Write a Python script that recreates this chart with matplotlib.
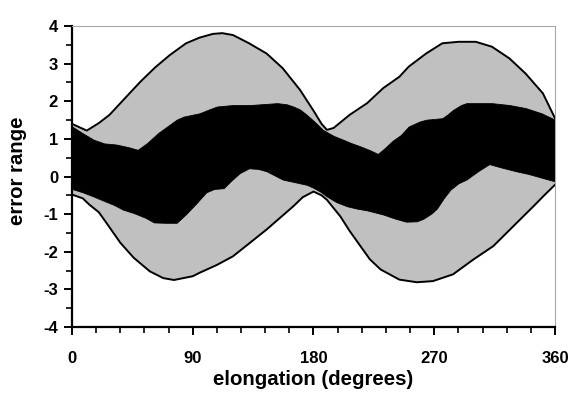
import numpy as np
import matplotlib
matplotlib.use("Agg")
import matplotlib.pyplot as plt
from matplotlib.ticker import MultipleLocator

plt.rcParams['font.family'] = ['Liberation Sans', 'DejaVu Sans']
plt.rcParams['axes.unicode_minus'] = False

# outer envelope (grey band), upper and lower edges
outer_up_x = [0, 11, 20, 28, 40, 51, 62, 73, 85, 95, 105, 112, 120, 132, 145, 157, 170, 180,
              186, 190, 195, 207, 220, 232, 244, 251, 264, 276, 288, 301, 313, 326, 338, 351, 360]
outer_up_y = [1.40, 1.22, 1.42, 1.64, 2.10, 2.52, 2.90, 3.23, 3.54, 3.69, 3.79, 3.81, 3.76, 3.54,
              3.27, 2.88, 2.30, 1.75, 1.40, 1.24, 1.29, 1.64, 1.95, 2.35, 2.65, 2.92, 3.27, 3.54,
              3.58, 3.58, 3.45, 3.14, 2.74, 2.21, 1.55]

outer_lo_x = [0, 8, 13, 20, 26, 36, 46, 58, 68, 76, 90, 95, 108, 120, 132, 145, 155, 165, 172,
              180, 186, 190, 200, 207, 215, 222, 230, 244, 257, 269, 284, 299, 314, 329, 344, 352, 360]
outer_lo_y = [-0.48, -0.58, -0.75, -0.95, -1.25, -1.76, -2.16, -2.52, -2.70, -2.75, -2.65, -2.56,
              -2.35, -2.12, -1.78, -1.41, -1.10, -0.79, -0.55, -0.40, -0.50, -0.62, -1.06, -1.45,
              -1.85, -2.20, -2.47, -2.74, -2.81, -2.78, -2.60, -2.21, -1.85, -1.32, -0.79, -0.50, -0.22]

# inner band (black), upper and lower edges
inner_up_x = [0, 8, 16, 24, 33, 42, 49, 56, 64, 71, 78, 83, 95, 102, 108, 120, 133, 145, 153, 160,
              165, 170, 175, 181, 187, 195, 202, 208, 215, 222, 228, 233, 239, 245, 251, 259, 264,
              276, 280, 284, 290, 294, 313, 326, 338, 350, 360]
inner_up_y = [1.33, 1.15, 0.98, 0.88, 0.85, 0.78, 0.71, 0.89, 1.15, 1.33, 1.51, 1.59, 1.68, 1.78,
              1.86, 1.90, 1.90, 1.93, 1.95, 1.92, 1.86, 1.78, 1.64, 1.45, 1.24, 1.08, 0.98, 0.89,
              0.80, 0.70, 0.60, 0.75, 0.95, 1.10, 1.33, 1.46, 1.51, 1.55, 1.65, 1.77, 1.90, 1.95,
              1.95, 1.90, 1.82, 1.68, 1.51]

inner_lo_x = [0, 8, 16, 24, 31, 38, 46, 55, 61, 70, 78, 85, 93, 100, 106, 113, 119, 125, 132, 139,
              145, 151, 157, 166, 175, 180, 185, 190, 197, 205, 212, 220, 232, 241, 249, 257, 262,
              268, 272, 277, 282, 288, 294, 303, 311, 320, 331, 340, 350, 360]
inner_lo_y = [-0.33, -0.42, -0.53, -0.65, -0.75, -0.88, -0.97, -1.10, -1.22, -1.23, -1.23, -1.00,
              -0.70, -0.42, -0.33, -0.31, -0.10, 0.09, 0.22, 0.20, 0.14, 0.03, -0.08, -0.15, -0.22,
              -0.30, -0.40, -0.53, -0.68, -0.79, -0.85, -0.90, -1.01, -1.12, -1.20, -1.19, -1.12,
              -0.98, -0.85, -0.58, -0.35, -0.18, -0.08, 0.15, 0.33, 0.24, 0.14, 0.07, -0.03, -0.13]

fig = plt.figure(figsize=(5.76, 3.94), dpi=100)
ax = fig.add_axes([0.125, 0.170, 0.8385, 0.764])

# grey band: fill between the two outer edges on a common x grid
xs = np.array(sorted(set(outer_up_x) | set(outer_lo_x)), dtype=float)
ax.fill_between(xs, np.interp(xs, outer_lo_x, outer_lo_y), np.interp(xs, outer_up_x, outer_up_y),
                color='#c0c0c0', lw=0, zorder=1)

xi = np.array(sorted(set(inner_up_x) | set(inner_lo_x)), dtype=float)
ax.fill_between(xi, np.interp(xi, inner_lo_x, inner_lo_y), np.interp(xi, inner_up_x, inner_up_y),
                color='black', lw=0.6, edgecolor='black', zorder=2)

ax.plot(outer_up_x, outer_up_y, color='black', lw=1.4, zorder=3)
ax.plot(outer_lo_x, outer_lo_y, color='black', lw=1.4, zorder=3)

ax.set_xlim(0, 360)
ax.set_ylim(-4, 4)
ax.xaxis.set_major_locator(MultipleLocator(90))
ax.xaxis.set_minor_locator(MultipleLocator(18))
ax.yaxis.set_major_locator(MultipleLocator(1))
ax.yaxis.set_minor_locator(MultipleLocator(0.5))

for s in ['top', 'right']:
    ax.spines[s].set_color('#a8a8a8')
    ax.spines[s].set_linewidth(0.8)
for s in ['left', 'bottom']:
    ax.spines[s].set_color('black')
    ax.spines[s].set_linewidth(1.6)

ax.tick_params(which='major', direction='out', length=6, width=1.4, labelsize=12)
ax.tick_params(axis='x', which='major', pad=11)
ax.tick_params(axis='y', which='major', pad=4)
ax.tick_params(which='minor', direction='out', length=4, width=1.2)
ax.tick_params(top=False, right=False, which='both')
for lab in ax.get_xticklabels() + ax.get_yticklabels():
    lab.set_fontweight('bold')

ax.set_xlabel('elongation (degrees)', fontsize=14.7, fontweight='bold', labelpad=3)
ax.set_ylabel('error range', fontsize=14.7, fontweight='bold')
ax.yaxis.set_label_coords(-0.093, 0.52)

fig.savefig('out.png', dpi=100)
